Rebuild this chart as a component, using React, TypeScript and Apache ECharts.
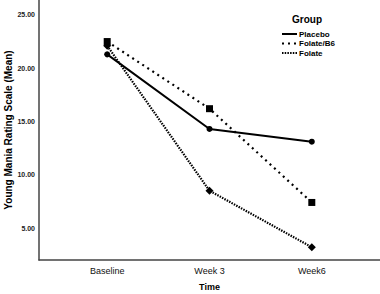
import React, { useEffect, useRef } from "react";
import * as echarts from "echarts";

const categories = ["Baseline", "Week 3", "Week6"];
const placebo = [21.3, 14.3, 13.1];
const folateB6 = [22.5, 16.2, 7.4];
const folate = [22.1, 8.5, 3.2];
const yTicks = [5, 10, 15, 20, 25];
const seriesNames = ["Placebo", "Folate/B6", "Folate"];
const legendTitle = "Group";

const FONT = "'Liberation Sans', Arial, sans-serif";

export default function App() {
  const ref = useRef<HTMLDivElement>(null);
  useEffect(() => {
    if (!ref.current) return;
    const chart = echarts.init(ref.current, null, { renderer: "svg" });
    const toData = (arr: number[]) => arr.map((v, i) => [i, v]);
    const dashes: any[] = ["solid", [2, 4], [1.5, 1.2]];
    const symbols = ["circle", "rect", "diamond"];
    const sizes = [6, 7, 8];
    const datas = [placebo, folateB6, folate];
    const series = seriesNames.map((name, k) => ({
      name,
      type: "line",
      data: toData(datas[k]),
      symbol: symbols[k],
      symbolSize: sizes[k],
      showSymbol: true,
      lineStyle: { color: "#000", width: k === 0 ? 2 : 2.2, type: dashes[k] },
      itemStyle: { color: "#000" },
      z: 3 - k,
    }));
    const legendRows = [34, 43.5, 53];
    const legendGraphics: any[] = [
      {
        type: "text",
        x: 307,
        y: 19,
        style: {
          text: legendTitle,
          font: `bold 10px ${FONT}`,
          fill: "#000",
          align: "center",
          verticalAlign: "middle",
        },
      },
    ];
    seriesNames.forEach((name, k) => {
      legendGraphics.push({
        type: "line",
        shape: { x1: 282, y1: legendRows[k], x2: 297, y2: legendRows[k] },
        style: { stroke: "#000", lineWidth: 2, lineDash: k === 0 ? null : k === 1 ? [2, 4] : [1.5, 1.2] },
      });
      legendGraphics.push({
        type: "text",
        x: 299,
        y: legendRows[k],
        style: {
          text: name,
          font: `bold 8px ${FONT}`,
          fill: "#000",
          align: "left",
          verticalAlign: "middle",
        },
      });
    });
    chart.setOption({
      animation: false,
      grid: { left: 39, right: 0, top: 0, bottom: 34, containLabel: false, outerBoundsMode: "none" },
      xAxis: {
        type: "value",
        min: -2 / 3,
        max: 8 / 3,
        name: "Time",
        nameLocation: "middle",
        nameGap: 22,
        nameMoveOverlap: false,
        nameTextStyle: { fontFamily: FONT, fontWeight: "bold", fontSize: 9, color: "#000" },
        axisLine: { show: true, onZero: false, lineStyle: { color: "#444", width: 1.5 } },
        axisTick: { show: false },
        splitLine: { show: false },
        axisLabel: {
          customValues: [0, 1, 2],
          formatter: (v: number) => categories[Math.round(v)] ?? "",
          fontFamily: FONT,
          fontSize: 9,
          color: "#111",
          margin: 6,
        },
      },
      yAxis: {
        type: "value",
        min: 2,
        max: 26.4,
        name: "Young Mania Rating Scale (Mean)",
        nameLocation: "middle",
        nameGap: 26,
        nameMoveOverlap: false,
        nameTextStyle: { fontFamily: FONT, fontWeight: "bold", fontSize: 10, color: "#000" },
        axisLine: { show: true, onZero: false, lineStyle: { color: "#444", width: 1.5 } },
        axisTick: { show: false },
        splitLine: { show: false },
        axisLabel: {
          customValues: yTicks,
          formatter: (v: number) => v.toFixed(2),
          fontFamily: FONT,
          fontSize: 7,
          fontWeight: "bold",
          color: "#222",
          margin: 4,
        },
      },
      graphic: legendGraphics,
      series,
    });
    return () => chart.dispose();
  }, []);
  return <div ref={ref} style={{ width: 380, height: 294, position: "absolute", left: 0, top: 0, background: "#fff" }} />;
}
